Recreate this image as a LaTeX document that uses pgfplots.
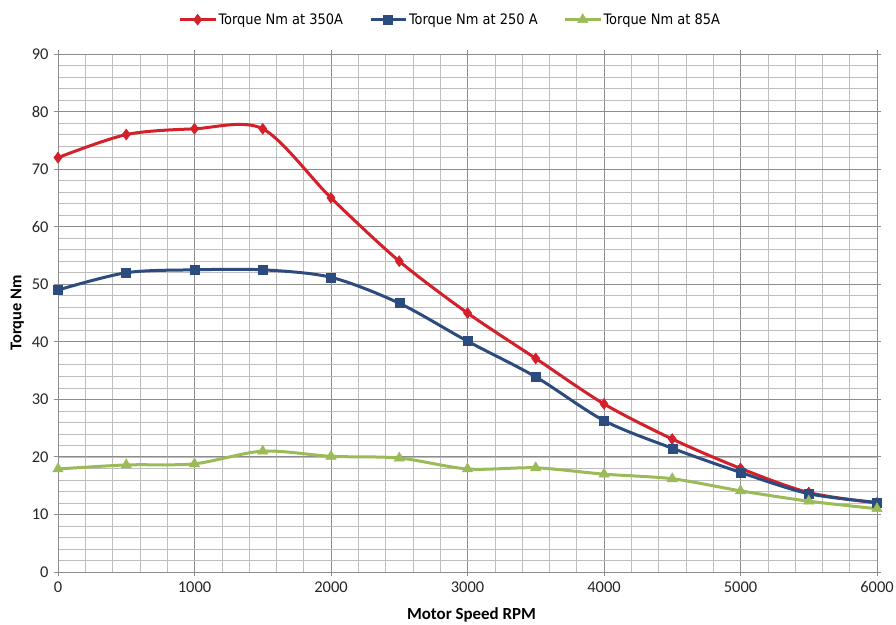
\documentclass[border=0pt]{standalone}
\usepackage{fontspec}
\setmainfont{Carlito}
\newfontfamily\legfont{DejaVu Sans Condensed}
\usepackage{pgfplots}
\pgfplotsset{compat=1.18}
\definecolor{cred}{HTML}{D3202A}
\definecolor{cblue}{HTML}{2C4B7E}
\definecolor{cgreen}{HTML}{9BBB59}
\definecolor{gmaj}{HTML}{8C8C8C}
\definecolor{gmin}{HTML}{BDBDBD}
\begin{document}
\begin{tikzpicture}
\begin{axis}[
  scale only axis,
  width=819bp, height=518bp,
  xmin=0, xmax=6000, ymin=0, ymax=90,
  xtick={0,1000,...,6000},
  ytick={0,10,...,90},
  minor xtick={200,400,...,5800},
  minor ytick={2,4,...,88},
  grid=both,
  major grid style={draw=gmaj, line width=0.8bp},
  minor grid style={draw=gmin, line width=0.6bp},
  axis line style={draw=gmaj, line width=0.9bp},
  tick align=outside,
  major tick length=4bp, minor tick length=0pt,
  tick style={draw=gmaj, line width=0.8bp},
  /pgf/number format/assume math mode=true,
  /pgf/number format/1000 sep={},
  ticklabel style={font=\fontsize{16.5}{18}\selectfont, text=black!85},
  xticklabel style={yshift=-2bp},
  yticklabel style={xshift=-2bp},
  xlabel={\textbf{Motor Speed RPM}},
  ylabel={\textbf{Torque Nm}},
  xlabel style={font=\fontsize{17}{19}\selectfont, at={(ticklabel cs:0.5)}, anchor=north, yshift=-8bp, xshift=4bp},
  ylabel style={font=\fontsize{16.5}{18}\selectfont, yshift=1bp},
  legend columns=3,
  legend style={at={(0.479,1.0)}, anchor=south, yshift=24bp, draw=none, fill=none,
    font=\legfont\fontsize{14.5}{16}\selectfont,
    /tikz/every even column/.append style={column sep=24bp},
    /tikz/every odd column/.append style={column sep=0bp}},
  legend cell align=left,
  legend image code/.code={
    \draw[#1, smooth=false, mark repeat=2, mark phase=2] plot coordinates {(0bp,0bp) (17.5bp,0bp) (35bp,0bp)};
  },
  every axis plot/.append style={line width=3bp, smooth, tension=0.5},
]
\addplot[cred, mark=diamond*, mark size=5.5bp, mark options={line width=0.5bp, fill=cred}] coordinates {
(0,72) (500,76) (1000,77) (1500,77) (2000,65) (2500,54) (3000,45) (3500,37.1) (4000,29.2) (4500,23.1) (5000,18) (5500,13.8) (6000,12)};
\addlegendentry{Torque Nm at 350A}
\addplot[cblue, mark=square*, mark size=4.5bp, mark options={line width=0.5bp, fill=cblue}] coordinates {
(0,49) (500,52) (1000,52.5) (1500,52.5) (2000,51.2) (2500,46.7) (3000,40.1) (3500,33.9) (4000,26.3) (4500,21.5) (5000,17.3) (5500,13.6) (6000,12.1)};
\addlegendentry{Torque Nm at 250 A}
\addplot[cgreen, mark=triangle*, mark size=6bp, mark options={line width=0.5bp, fill=cgreen}] coordinates {
(0,17.9) (500,18.6) (1000,18.8) (1500,21) (2000,20.1) (2500,19.8) (3000,17.9) (3500,18.1) (4000,17) (4500,16.2) (5000,14.1) (5500,12.3) (6000,11)};
\addlegendentry{Torque Nm at 85A}
\end{axis}
\pgfresetboundingbox
\useasboundingbox ([xshift=-58bp,yshift=-53bp]current axis.south west) rectangle ([xshift=19bp,yshift=54bp]current axis.north east);
\end{tikzpicture}
\end{document}
